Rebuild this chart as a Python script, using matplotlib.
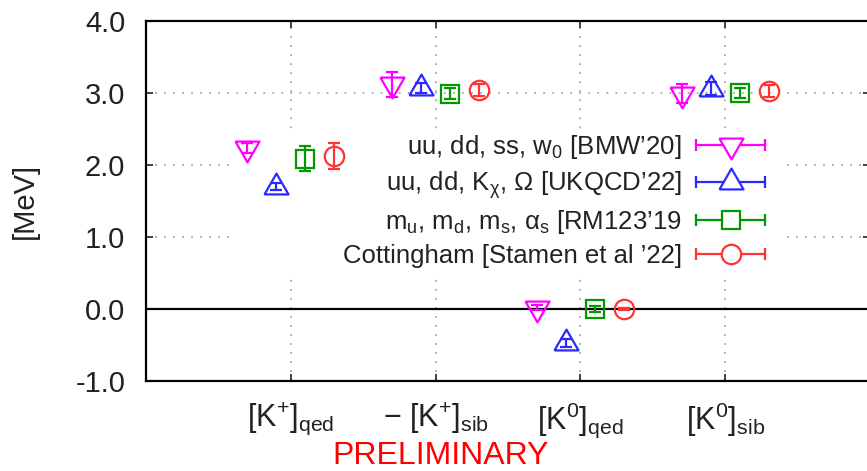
import numpy as np
import matplotlib
matplotlib.use("Agg")
import matplotlib.pyplot as plt
from matplotlib.lines import Line2D
from matplotlib.patches import Rectangle
from matplotlib.legend_handler import HandlerBase
from matplotlib.ticker import FormatStrFormatter

plt.rcParams["font.family"] = ["Liberation Sans", "DejaVu Sans"]
plt.rcParams["mathtext.fontset"] = "custom"
plt.rcParams["mathtext.rm"] = "Liberation Sans"
plt.rcParams["mathtext.it"] = "Liberation Sans:italic"
plt.rcParams["axes.unicode_minus"] = False

# data
categories = [
    r"[K$^{+}$]$_{\mathrm{qed}}$",
    r"$-$ [K$^{+}$]$_{\mathrm{sib}}$",
    r"[K$^{0}$]$_{\mathrm{qed}}$",
    r"[K$^{0}$]$_{\mathrm{sib}}$",
]
labels = [
    r"uu, dd, ss, w$_{\mathrm{0}}$ [BMW’20]",
    r"uu, dd, K$_{\mathrm{χ}}$, Ω [UKQCD’22]",
    r"m$_{\mathrm{u}}$, m$_{\mathrm{d}}$, m$_{\mathrm{s}}$, α$_{\mathrm{s}}$ [RM123’19",
    r"Cottingham [Stamen et al ’22]",
]
bmw = [2.23, 3.12, 0.02, 2.99]
bmw_err = [0.07, 0.17, 0.04, 0.13]
ukqcd = [1.70, 3.07, -0.47, 3.06]
ukqcd_err = [0.05, 0.07, 0.06, 0.09]
rm123 = [2.09, 2.99, 0.0, 3.0]
rm123_err = [0.17, 0.08, 0.04, 0.07]
cott = [2.13, 3.04, 0.0, 3.03]
cott_err = [0.18, 0.08, 0.02, 0.08]

values = [bmw, ukqcd, rm123, cott]
errors = [bmw_err, ukqcd_err, rm123_err, cott_err]
offsets = [-0.3, -0.1, 0.1, 0.3]
colors = ["#ff00ff", "#2a2aff", "#009900", "#ff3333"]

tri_down = [(-1, 0.577), (1, 0.577), (0, -1.155), (-1, 0.577)]
tri_up = [(-1, -0.577), (1, -0.577), (0, 1.155), (-1, -0.577)]
markers = [tri_down, tri_up, "s", "o"]
sizes = [20, 20, 13, 14]


class ErrHandler(HandlerBase):
    # horizontal bar with end caps and the marker in the middle, gnuplot style
    def create_artists(self, legend, orig, xdescent, ydescent, width, height,
                       fontsize, trans):
        y = height / 2 - ydescent
        x0, x1 = -xdescent, -xdescent + width
        c = orig.get_color()
        bar = Line2D([x0, x1], [y, y], color=c, lw=1.6)
        caps = Line2D([x0, x1], [y, y], ls="none", marker="|", ms=9, mew=1.6, color=c)
        mk = Line2D([(x0 + x1) / 2], [y], ls="none", marker=orig.get_marker(),
                    ms=orig.get_markersize(), mfc="white", mec=c, mew=1.6)
        for a in (bar, caps, mk):
            a.set_transform(trans)
        return [bar, caps, mk]


fig = plt.figure(figsize=(8.67, 4.71), dpi=100)
ax = fig.add_axes([146 / 867, 1 - 381 / 471, 724 / 867, 360 / 471])

x = np.arange(1, len(categories) + 1)
handles = []
for vals, errs, off, col, mk, ms in zip(values, errors, offsets, colors, markers, sizes):
    ax.errorbar(x + off, vals, yerr=errs, fmt="none", ecolor=col, elinewidth=1.6,
                capsize=4, capthick=1.6, zorder=4)
    ax.plot(x + off, vals, ls="none", marker=mk, ms=ms, mfc="none", mec=col,
            mew=1.6, zorder=5)
    handles.append(Line2D([], [], color=col, marker=mk, ms=ms))

ax.axhline(0, color="black", lw=1.6, zorder=3)

ax.set_xlim(0, 5)
ax.set_ylim(-1, 4)
ax.set_xticks(x)
ax.set_xticklabels(categories, fontsize=22)
ax.set_yticks(np.arange(-1, 5, 1))
ax.yaxis.set_major_formatter(FormatStrFormatter("%.1f"))
ax.tick_params(axis="both", direction="in", length=5, width=1.2, colors="#222222",
               top=True, right=True)
ax.tick_params(axis="y", labelsize=21, pad=15)
ax.tick_params(axis="x", pad=14)
ax.set_ylabel("[MeV]", fontsize=21, labelpad=26, color="#222222")

ax.grid(True, color="#a8a8a8", ls=(0, (1, 4)), lw=1.3, zorder=1)
for s in ax.spines.values():
    s.set_linewidth(1.6)

# opaque key area, hides the grid behind the legend like the original
ax.add_patch(Rectangle((0.120, 0.289), 0.758, 0.41, transform=ax.transAxes,
                       facecolor="white", edgecolor="none", zorder=2))

leg = ax.legend(handles, labels, loc="upper right", bbox_to_anchor=(0.859, 0.695),
                markerfirst=False, handler_map={Line2D: ErrHandler()},
                fontsize=18.5, handlelength=2.7, handletextpad=0.55,
                labelspacing=0.3, borderpad=0.1, borderaxespad=0, frameon=False)
leg.set_zorder(6)
for t in leg.get_texts():
    t.set_color("#222222")

fig.text(0.508, 0.0, "PRELIMINARY", color="red", fontsize=23, ha="center",
         va="bottom")

fig.savefig("out.png", dpi=100)
